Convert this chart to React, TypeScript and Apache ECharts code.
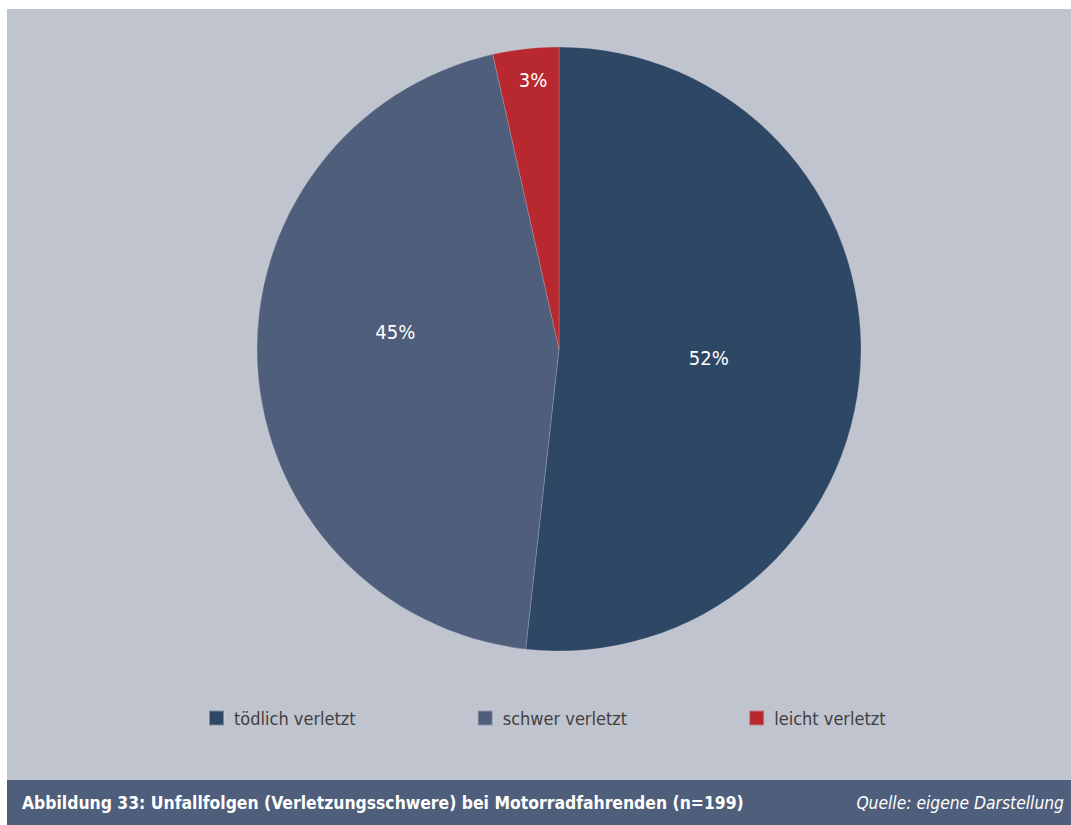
import React, { useEffect, useRef } from "react";
import * as echarts from "echarts";

const categories = ["tödlich verletzt", "schwer verletzt", "leicht verletzt"];
const counts = [103, 89, 7];
const percentLabels = ["52%", "45%", "3%"];
const colors = ["#2d4765", "#4f5e7b", "#b8282f"];
const captionText = "Abbildung 33: Unfallfolgen (Verletzungsschwere) bei Motorradfahrenden (n=199)";
const sourceText = "Quelle: eigene Darstellung";

const FONT = "'DejaVu Sans Condensed', 'Liberation Sans Narrow', sans-serif";

export default function App() {
  const ref = useRef<HTMLDivElement>(null);
  useEffect(() => {
    if (!ref.current) return;
    const chart = echarts.init(ref.current, null, { renderer: "svg" });
    const labelShift: Record<number, { dx: number; dy: number }> = {
      0: { dx: -4, dy: 0 },
      1: { dx: -10, dy: -26 },
      2: { dx: -9, dy: -116 },
    };
    chart.setOption({
      animation: false,
      backgroundColor: "#ffffff",
      textStyle: { fontFamily: FONT },
      graphic: [
        {
          type: "rect",
          z: -10,
          shape: { x: 7, y: 9, width: 1064, height: 771 },
          style: { fill: "#c0c4ce" },
          silent: true,
        },
        {
          type: "rect",
          z: -10,
          shape: { x: 7, y: 780, width: 1064, height: 45 },
          style: { fill: "#4f5e7b" },
          silent: true,
        },
        {
          type: "text",
          x: 22,
          y: 803,
          style: {
            text: captionText,
            fill: "#ffffff",
            font: `bold 17.4px ${FONT}`,
            textAlign: "left",
            textVerticalAlign: "middle",
          },
        },
        {
          type: "text",
          x: 1064,
          y: 803,
          style: {
            text: sourceText,
            fill: "#ffffff",
            font: `italic 17.3px ${FONT}`,
            textAlign: "right",
            textVerticalAlign: "middle",
          },
        },
      ],
      color: colors,
      legend: {
        left: 203,
        top: 704,
        icon: "rect",
        itemWidth: 15,
        itemHeight: 15,
        itemGap: 121,
        textStyle: { fontSize: 18, color: "#404040", fontFamily: FONT, padding: [0, 0, 0, 5] },
        data: categories,
      },
      series: [
        {
          type: "pie",
          center: [559, 349],
          radius: 302,
          startAngle: 90,
          clockwise: true,
          avoidLabelOverlap: false,
          itemStyle: { borderColor: "rgba(200,205,215,0.5)", borderWidth: 0.5 },
          label: {
            show: true,
            position: "inside",
            color: "#ffffff",
            fontSize: 20,
            fontFamily: FONT,
            formatter: (p: any) => percentLabels[p.dataIndex],
          },
          labelLine: { show: false },
          labelLayout: (p: any) => labelShift[p.dataIndex] || {},
          emphasis: { disabled: true },
          data: categories.map((name, i) => ({ name, value: counts[i] })),
        },
      ],
    });
    return () => chart.dispose();
  }, []);
  return (
    <div
      ref={ref}
      style={{ position: "absolute", left: 0, top: 0, width: 1071, height: 825 }}
    />
  );
}
